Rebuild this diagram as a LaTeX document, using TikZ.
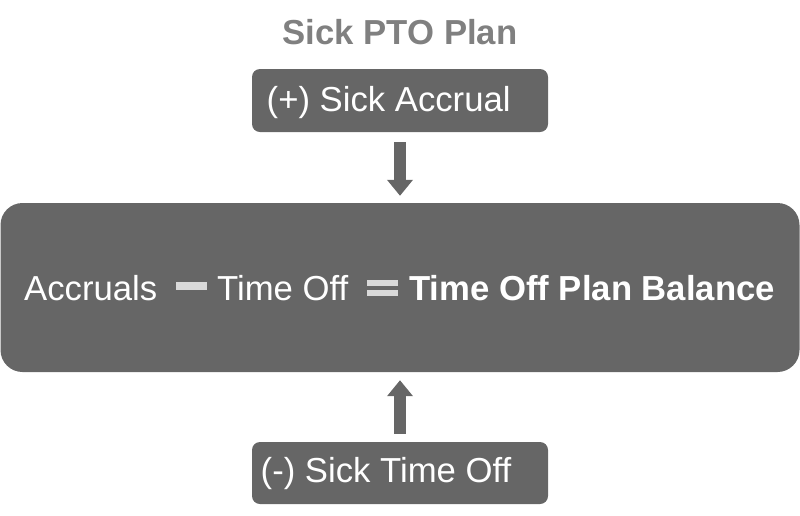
\documentclass[tikz,border=0pt]{standalone}
\usepackage{fontspec}
\setmainfont{Liberation Sans}
\usetikzlibrary{arrows.meta}
\definecolor{boxgray}{HTML}{666666}
\definecolor{titlegray}{HTML}{808080}
\definecolor{signgray}{HTML}{D9D9D9}
\tikzset{
  box/.style={fill=boxgray, draw=none, rounded corners=8pt, inner sep=0pt},
  bigbox/.style={fill=boxgray, draw=none, rounded corners=22pt, inner sep=0pt},
  txt/.style={text=white, inner sep=0pt, anchor=base west, font=\fontsize{34.7}{40}\selectfont},
  btxt/.style={txt, font=\fontsize{34.7}{40}\selectfont\bfseries},
  sign/.style={fill=signgray, draw=none, inner sep=0pt},
  flow/.style={draw=boxgray, line width=12.5pt, -{Triangle[length=16pt,width=25pt]}},
}
\begin{document}
\begin{tikzpicture}[x=1pt,y=-1pt]
\useasboundingbox (0,0) rectangle (800,515);
% title
\node[anchor=base, inner sep=0pt, text=titlegray, font=\fontsize{34.7}{40}\selectfont\bfseries] (title) at (400,44) {Sick PTO Plan};
% boxes
\node[box, minimum width=296pt, minimum height=63pt] (acc) at (400,100.5) {};
\node[bigbox, minimum width=799pt, minimum height=169pt] (bal) at (400,287.5) {};
\node[box, minimum width=296pt, minimum height=62pt] (off) at (400,473) {};
% texts
\node[txt] (acct) at (266.5,111) {(+) Sick Accrual};
\node[txt] (offt) at (260.5,482) {(-) Sick Time Off};
\node[txt] (a1) at (24,300) {Accruals};
\node[txt] (a2) at (217,300) {Time Off};
\node[btxt] (a3) at (409,300) {Time Off Plan Balance};
% signs
\node[sign, minimum width=31pt, minimum height=8pt] (minus) at (191.5,286) {};
\node[sign, minimum width=31pt, minimum height=6pt] (eq1) at (382.5,283) {};
\node[sign, minimum width=31pt, minimum height=6pt] (eq2) at (382.5,293) {};
% arrows
\draw[flow, shorten <=10pt, shorten >=7pt] (acc.south) -- (bal.north);
\draw[flow, shorten <=8pt, shorten >=8pt] (off.north) -- (bal.south);
\end{tikzpicture}
\end{document}
